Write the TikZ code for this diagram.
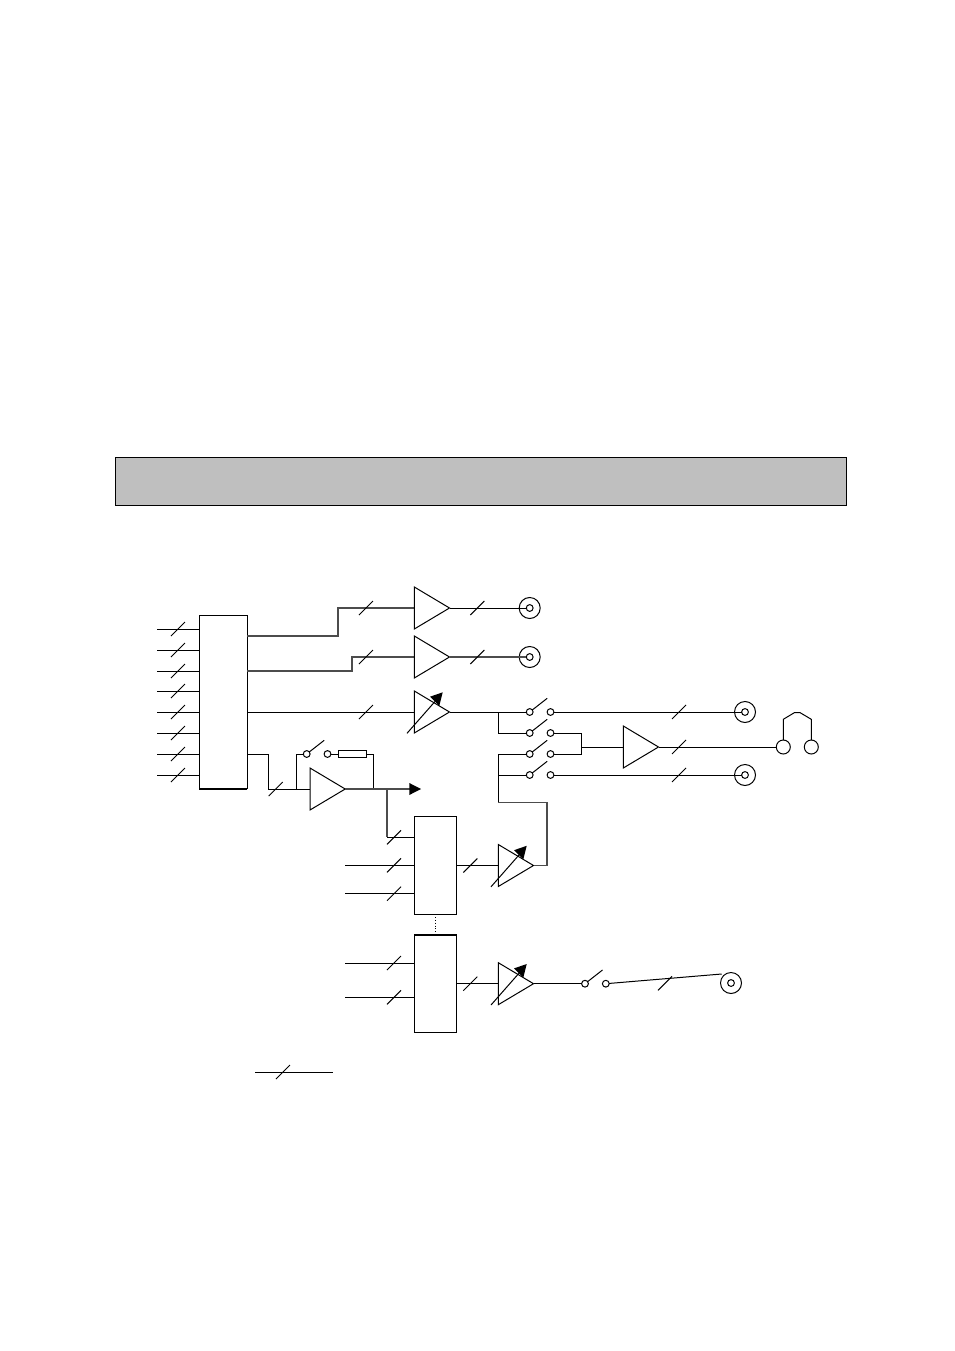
\documentclass[tikz,border=0pt]{standalone}
\usetikzlibrary{calc}
\definecolor{bannergray}{HTML}{BFBFBF}
\tikzset{
  wire/.style={line width=1pt,line join=miter},
  heavy/.style={line width=1.05pt,line join=miter,draw=black!70},
  tickmark/.style={line width=1pt},
  block/.style={draw,line width=1pt,fill=white,inner sep=0pt,outer sep=0pt,rectangle},
  ampbody/.style={draw,line width=1pt,fill=white,line join=miter},
  contact/.style={draw,line width=1pt,fill=white,circle,inner sep=0pt,outer sep=0pt,minimum size=6.8pt},
  jackouter/.style={draw,line width=1pt,circle,inner sep=0pt,outer sep=0pt,minimum size=21pt},
  earcup/.style={draw,line width=1pt,fill=white,circle,inner sep=0pt,outer sep=0pt,minimum size=14pt},
  headtip/.style={fill=black,draw=none}
}
% #1 name, #2 left x, #3 centre y, half height 21, length 35.2
\newcommand{\ampshape}[3]{%
  \coordinate (#1-in) at (#2,#3);
  \coordinate (#1-out) at ($(#2,#3)+(35.2,0)$);
  \draw[ampbody] ($(#2,#3)+(0,-21)$) -- ($(#2,#3)+(0,21)$) -- ($(#2,#3)+(35.2,0)$) -- cycle;}
% variable amplifier arrow
\newcommand{\varmark}[2]{%
  \draw[wire] ($(#1,#2)+(-7.3,21.3)$) -- ($(#1,#2)+(22,-12)$);
  \fill[headtip] ($(#1,#2)+(15.7,-15.3)$) -- ($(#1,#2)+(28.4,-19.7)$) -- ($(#1,#2)+(25,-6)$) -- cycle;}
\newcommand{\slashmark}[2]{\draw[tickmark] ($(#1,#2)+(-7,7)$) -- ($(#1,#2)+(7,-7)$);}
% #1 name, #2 x of first contact, #3 y
\newcommand{\switchset}[3]{%
  \node[contact] (#1-a) at (#2,#3) {};
  \node[contact] (#1-b) at ($(#2,#3)+(20.8,0)$) {};
  \draw[tickmark] ($(#2,#3)+(2.3,-1.8)$) -- ($(#2,#3)+(17.5,-13.7)$);}
\newcommand{\jackset}[3]{%
  \node[jackouter] (#1) at (#2,#3) {};
  \node[contact] (#1-c) at (#2,#3) {};}
\begin{document}
\begin{tikzpicture}[x=1pt,y=-1pt]
\useasboundingbox (0,0) rectangle (954,1351);
\fill[white] (0,0) rectangle (954,1351);
% banner
\node[block,fill=bannergray,minimum width=731.5pt,minimum height=47.5pt] (banner) at (480.8,481.5) {};
% input matrix
\node[block,minimum width=48pt,minimum height=173.5pt] (matrix) at (223.3,702.2) {};
\draw[line width=1.5pt] (matrix.south west) -- (matrix.south east);
\foreach \yy in {629,650,671,691,712,733,754,775}{
  \coordinate (inp) at (157,\yy);
  \draw[wire] (inp) -- (matrix.west |- inp);
  \slashmark{178}{\yy}
}
% output amps
\coordinate (mA) at (247.3,636);
\coordinate (mB) at (247.3,671);
\coordinate (wA) at (414.3,608);
\coordinate (wB) at (414.3,657);
\draw[heavy] (mA) -- (338,636) -- (338,608) -- (wA);
\draw[heavy] (mB) -- (352,671) -- (352,657) -- (wB);
\ampshape{ampA}{414.3}{608}
\ampshape{ampB}{414.3}{657}
\ampshape{ampC}{414.3}{712}
\varmark{414.3}{712}
\draw[wire] (matrix.east |- ampC-in) -- (ampC-in);
\slashmark{366}{608}
\slashmark{366}{657}
\slashmark{366}{712}
\jackset{jackA}{529.7}{608}
\jackset{jackB}{529.7}{657}
\draw[wire] (ampA-out) -- (jackA-c);
\draw[heavy] (ampB-out) -- (jackB-c);
\slashmark{477.3}{608}
\slashmark{477.3}{657}
% talkback stage
\ampshape{ampT}{310}{789}
\coordinate (mT) at (247.3,754);
\draw[wire] (mT) -- (268.7,754) -- (268.7,789) -- (ampT-in);
\slashmark{275.7}{789}
\switchset{swT}{306.7}{754}
\draw[wire] (296.3,789) -- (296.3,754) -- (swT-a);
\node[block,line width=1.1pt,minimum width=28.4pt,minimum height=7.4pt] (res) at (352.5,754) {};
\draw[wire] (swT-b) -- (res);
\draw[wire] (res) -- (373,754) -- (373,789);
\coordinate (arrowtip) at (421,789);
\draw[heavy] (ampT-out) -- (410,789);
\fill[headtip] (409.3,783) -- (arrowtip) -- (409.3,795) -- cycle;
% lower mix blocks
\node[block,minimum width=42.4pt,minimum height=98pt] (mixA) at (435.5,865.3) {};
\node[block,minimum width=42.4pt,minimum height=97.3pt] (mixB) at (435.5,983.7) {};
\draw[line width=1.5pt] (mixB.north west) -- (mixB.north east);
\draw[line width=0.8pt,dotted] (mixA.south) -- (mixB.north);
\coordinate (inA1) at (387,837.3);
\coordinate (inA2) at (345,865.3);
\coordinate (inA3) at (345,893.7);
\coordinate (inB1) at (345,963);
\coordinate (inB2) at (345,997.3);
\draw[heavy] (387,789) -- (inA1);
\draw[wire] (inA1) -- (mixA.west |- inA1);
\draw[wire] (inA2) -- (mixA.west |- inA2);
\draw[wire] (inA3) -- (mixA.west |- inA3);
\draw[wire] (inB1) -- (mixB.west |- inB1);
\draw[wire] (inB2) -- (mixB.west |- inB2);
\slashmark{394}{837.3}
\slashmark{394}{865.3}
\slashmark{394}{893.7}
\slashmark{394}{963}
\slashmark{394}{997.3}
\ampshape{ampD}{498.3}{865.5}
\varmark{498.3}{865.5}
\ampshape{ampE}{498.3}{983.7}
\varmark{498.3}{983.7}
\draw[wire] (mixA.east |- ampD-in) -- (ampD-in);
\draw[wire] (mixB.east |- ampE-in) -- (ampE-in);
\slashmark{470.3}{865.5}
\slashmark{470.3}{983.7}
% monitor switches
\switchset{swM}{529.7}{712}
\switchset{swN}{529.7}{733}
\switchset{swP}{529.7}{754}
\switchset{swQ}{529.7}{775}
\draw[wire] (ampC-out) -- (swM-a);
\draw[wire] (498.3,712) -- (498.3,733) -- (swN-a);
\draw[wire] (swP-a) -- (498.3,754) -- (498.3,802.7);
\draw[wire] (498.3,775) -- (swQ-a);
\draw[heavy] (498.3,802.7) -- (547,802.7) -- (547,865.5) -- (ampD-out);
% headphone amp
\ampshape{ampH}{623.3}{747}
\draw[wire] (swN-b) -- (581.7,733) -- (581.7,754) -- (swP-b);
\draw[wire] (581.7,747) -- (ampH-in);
\node[earcup] (earL) at (783.3,747) {};
\node[earcup] (earR) at (811.3,747) {};
\draw[wire] (ampH-out) -- (earL);
\draw[wire,line join=round] (earL) -- (783.3,719.3) -- (794.5,712.6) -- (800,712.6) -- (811.3,719.3) -- (earR);
\slashmark{679}{747}
% monitor outputs
\jackset{jackC}{745}{712}
\jackset{jackD}{745}{775}
\draw[wire] (swM-b) -- (jackC-c);
\draw[wire] (swQ-b) -- (jackD-c);
\slashmark{679}{712}
\slashmark{679}{775}
% last output
\switchset{swR}{585}{983.7}
\draw[wire] (ampE-out) -- (swR-a);
\jackset{jackE}{731}{983}
\coordinate (lastend) at (721.7,974);
\draw[wire] (swR-b) -- (lastend);
\slashmark{665}{983.3}
% legend
\coordinate (legL) at (255,1072);
\coordinate (legR) at (333,1072);
\draw[wire] (legL) -- (legR);
\slashmark{283}{1072}
\end{tikzpicture}
\end{document}
